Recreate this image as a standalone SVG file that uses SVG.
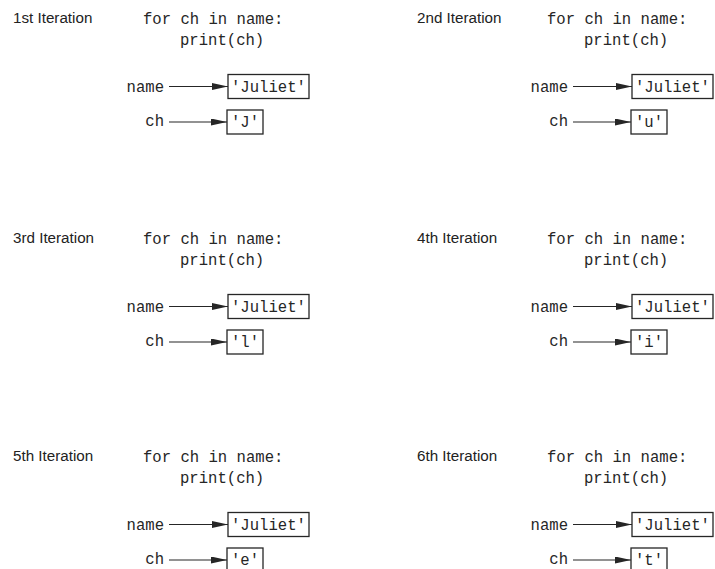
<svg xmlns="http://www.w3.org/2000/svg" width="715" height="569" viewBox="0 0 715 569">
<style>
.bg{fill:#ffffff}
.hd{font-family:"Liberation Sans",Arial,sans-serif;font-size:15.2px;fill:#222222}
.cd{font-family:"Liberation Mono","Courier New",monospace;font-size:15.6px;fill:#262626}
.bx{fill:#ffffff;stroke:#262626;stroke-width:1.3}
.ln{stroke:#262626;stroke-width:1.1;fill:none;marker-end:url(#ah)}
</style>
<defs>
<marker id="ah" markerUnits="userSpaceOnUse" markerWidth="17" markerHeight="8" refX="16" refY="3.5" orient="auto">
<path d="M0,0 L16,3.5 L0,7 z" fill="#262626"/>
</marker>
</defs>
<rect class="bg" width="715" height="569"/>

<g id="iter1">
<g id="iter1-heading"><text class="hd" x="13" y="23">1st Iteration</text></g>
<g id="iter1-code"><text class="cd" x="143" y="24">for ch in name:</text><text class="cd" x="180" y="45">print(ch)</text></g>
<g id="iter1-name"><text class="cd" x="164" y="92" text-anchor="end">name</text><rect class="bx" x="228" y="74.5" width="81" height="24"/><text class="cd" x="231" y="92">'Juliet'</text></g>
<g id="iter1-ch"><text class="cd" x="164" y="126" text-anchor="end">ch</text><rect class="bx" x="227" y="110" width="36" height="24"/><text class="cd" x="231" y="126.5">'J'</text></g>
<g id="iter1-connectors"><line class="ln" x1="169" y1="86.5" x2="228" y2="86.5"/><line class="ln" x1="169" y1="122" x2="227" y2="122"/></g>
</g>

<g id="iter2" transform="translate(404,0)">
<g id="iter2-heading"><text class="hd" x="13" y="23">2nd Iteration</text></g>
<g id="iter2-code"><text class="cd" x="143" y="24">for ch in name:</text><text class="cd" x="180" y="45">print(ch)</text></g>
<g id="iter2-name"><text class="cd" x="164" y="92" text-anchor="end">name</text><rect class="bx" x="228" y="74.5" width="81" height="24"/><text class="cd" x="231" y="92">'Juliet'</text></g>
<g id="iter2-ch"><text class="cd" x="164" y="126" text-anchor="end">ch</text><rect class="bx" x="227" y="110" width="36" height="24"/><text class="cd" x="231" y="126.5">'u'</text></g>
<g id="iter2-connectors"><line class="ln" x1="169" y1="86.5" x2="228" y2="86.5"/><line class="ln" x1="169" y1="122" x2="227" y2="122"/></g>
</g>

<g id="iter3" transform="translate(0,220)">
<g id="iter3-heading"><text class="hd" x="13" y="23">3rd Iteration</text></g>
<g id="iter3-code"><text class="cd" x="143" y="24">for ch in name:</text><text class="cd" x="180" y="45">print(ch)</text></g>
<g id="iter3-name"><text class="cd" x="164" y="92" text-anchor="end">name</text><rect class="bx" x="228" y="74.5" width="81" height="24"/><text class="cd" x="231" y="92">'Juliet'</text></g>
<g id="iter3-ch"><text class="cd" x="164" y="126" text-anchor="end">ch</text><rect class="bx" x="227" y="110" width="36" height="24"/><text class="cd" x="231" y="126.5">'l'</text></g>
<g id="iter3-connectors"><line class="ln" x1="169" y1="86.5" x2="228" y2="86.5"/><line class="ln" x1="169" y1="122" x2="227" y2="122"/></g>
</g>

<g id="iter4" transform="translate(404,220)">
<g id="iter4-heading"><text class="hd" x="13" y="23">4th Iteration</text></g>
<g id="iter4-code"><text class="cd" x="143" y="24">for ch in name:</text><text class="cd" x="180" y="45">print(ch)</text></g>
<g id="iter4-name"><text class="cd" x="164" y="92" text-anchor="end">name</text><rect class="bx" x="228" y="74.5" width="81" height="24"/><text class="cd" x="231" y="92">'Juliet'</text></g>
<g id="iter4-ch"><text class="cd" x="164" y="126" text-anchor="end">ch</text><rect class="bx" x="227" y="110" width="36" height="24"/><text class="cd" x="231" y="126.5">'i'</text></g>
<g id="iter4-connectors"><line class="ln" x1="169" y1="86.5" x2="228" y2="86.5"/><line class="ln" x1="169" y1="122" x2="227" y2="122"/></g>
</g>

<g id="iter5" transform="translate(0,438)">
<g id="iter5-heading"><text class="hd" x="13" y="23">5th Iteration</text></g>
<g id="iter5-code"><text class="cd" x="143" y="24">for ch in name:</text><text class="cd" x="180" y="45">print(ch)</text></g>
<g id="iter5-name"><text class="cd" x="164" y="92" text-anchor="end">name</text><rect class="bx" x="228" y="74.5" width="81" height="24"/><text class="cd" x="231" y="92">'Juliet'</text></g>
<g id="iter5-ch"><text class="cd" x="164" y="126" text-anchor="end">ch</text><rect class="bx" x="227" y="110" width="36" height="24"/><text class="cd" x="231" y="126.5">'e'</text></g>
<g id="iter5-connectors"><line class="ln" x1="169" y1="86.5" x2="228" y2="86.5"/><line class="ln" x1="169" y1="122" x2="227" y2="122"/></g>
</g>

<g id="iter6" transform="translate(404,438)">
<g id="iter6-heading"><text class="hd" x="13" y="23">6th Iteration</text></g>
<g id="iter6-code"><text class="cd" x="143" y="24">for ch in name:</text><text class="cd" x="180" y="45">print(ch)</text></g>
<g id="iter6-name"><text class="cd" x="164" y="92" text-anchor="end">name</text><rect class="bx" x="228" y="74.5" width="81" height="24"/><text class="cd" x="231" y="92">'Juliet'</text></g>
<g id="iter6-ch"><text class="cd" x="164" y="126" text-anchor="end">ch</text><rect class="bx" x="227" y="110" width="36" height="24"/><text class="cd" x="231" y="126.5">'t'</text></g>
<g id="iter6-connectors"><line class="ln" x1="169" y1="86.5" x2="228" y2="86.5"/><line class="ln" x1="169" y1="122" x2="227" y2="122"/></g>
</g>
</svg>
